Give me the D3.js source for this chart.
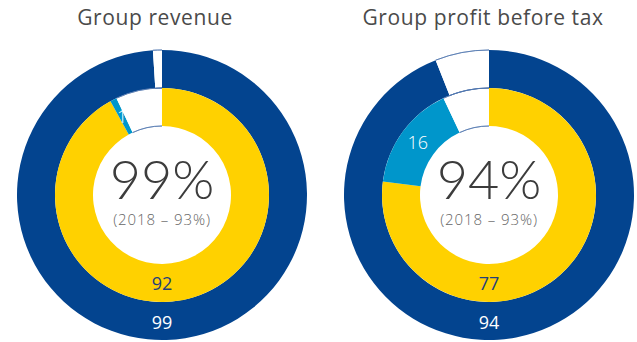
<!DOCTYPE html>
<html>
<head>
<meta charset="utf-8">
<script src="https://cdn.jsdelivr.net/npm/d3@7"></script>
<style>
  html, body { margin: 0; padding: 0; background: #fff; }
  svg { display: block; }
  text { font-family: "Open Sans", "Lato", sans-serif; }
  text.big { font-family: "Lato", "Open Sans", sans-serif; }
</style>
</head>
<body>
<svg id="chart" width="637" height="342"></svg>
<script>
// Chart titles and headline figures
const titles = ["Group revenue", "Group profit before tax"];
const headline = ["99%", "94%"];
const prior = ["(2018 \u2013 93%)", "(2018 \u2013 93%)"];

// Outer ring: share covered vs remainder
const outerValues = [[99, 1], [94, 6]];
// Inner ring: yellow share, light-blue share, remainder
const innerValues = [[92, 1, 7], [77, 16, 7]];

const colors = {
  outer: ["#03448f", "#ffffff"],
  inner: ["#ffd100", "#0096cb", "#ffffff"]
};

const svg = d3.select("#chart");
const centers = [162, 489];
const cy = 195;
const rOuter = 145, rMid = 107, rInner = 69;

const pie = d3.pie().sort(null).startAngle(0).endAngle(2 * Math.PI);
const outerArc = d3.arc().innerRadius(rMid).outerRadius(rOuter);
const innerArc = d3.arc().innerRadius(rInner).outerRadius(rMid);

centers.forEach((cx, i) => {
  const g = svg.append("g").attr("transform", `translate(${cx},${cy})`);

  const oArcs = pie(outerValues[i]);
  const iArcs = pie(innerValues[i]);

  g.selectAll("path.outer").data(oArcs).join("path")
    .attr("class", "outer")
    .attr("d", outerArc)
    .attr("fill", (d, j) => colors.outer[j]);

  g.selectAll("path.inner").data(iArcs).join("path")
    .attr("class", "inner")
    .attr("d", innerArc)
    .attr("fill", (d, j) => colors.inner[j]);

  // thin rim along the edges of the empty segments
  const rim = (r, d) => d3.arc().innerRadius(r).outerRadius(r)(d);
  const oEmpty = oArcs[oArcs.length - 1];
  const iEmpty = iArcs[iArcs.length - 1];
  [[rOuter, oEmpty], [rMid, oEmpty], [rMid, iEmpty], [rInner, iEmpty]].forEach(([r, d]) => {
    g.append("path").attr("d", rim(r, d))
      .attr("fill", "none").attr("stroke", "#4d74ad").attr("stroke-width", 0.7);
  });

  // title
  svg.append("text")
    .attr("x", cx - (i === 0 ? 7 : 6)).attr("y", 25)
    .attr("text-anchor", "middle")
    .attr("font-size", 21).attr("letter-spacing", 0.6).attr("fill", "#4a4a4a")
    .text(titles[i]);

  // centre figures
  g.append("text").attr("class", "big").attr("x", 0).attr("y", 4)
    .attr("text-anchor", "middle").attr("font-size", 54).attr("font-weight", 300)
    .attr("fill", "#3c3c3c").text(headline[i]);
  g.append("text").attr("x", 0).attr("y", 30)
    .attr("text-anchor", "middle").attr("font-size", 15).attr("font-weight", 300)
    .attr("letter-spacing", 0.9).attr("fill", "#666").text(prior[i]);

  // outer covered value at the bottom of the ring
  g.append("text").attr("x", 0).attr("y", (rOuter + rMid) / 2 + 8)
    .attr("text-anchor", "middle").attr("font-size", 18)
    .attr("fill", "#fff").text(outerValues[i][0]);

  // inner yellow value at the bottom
  g.append("text").attr("x", 0).attr("y", (rMid + rInner) / 2 + 7)
    .attr("text-anchor", "middle").attr("font-size", 18)
    .attr("fill", "#1f3f7a").text(innerValues[i][0]);

  // light-blue segment value at its centroid
  const lb = iArcs[1];
  const c = innerArc.centroid(lb);
  g.append("text").attr("x", c[0]).attr("y", c[1] + 6)
    .attr("text-anchor", "middle").attr("font-size", 18).attr("font-weight", 300)
    .attr("fill", "#fff").text(innerValues[i][1]);
});
</script>
</body>
</html>
